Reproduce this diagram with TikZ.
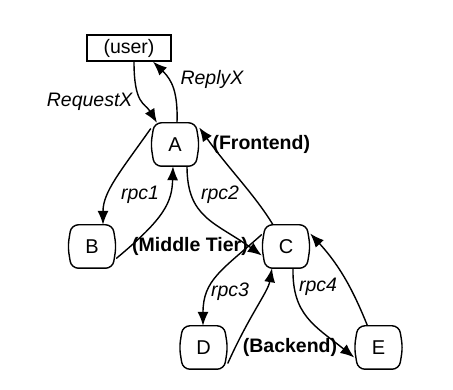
\documentclass[tikz,border=0pt]{standalone}
\usepackage{fontspec}
\setmainfont{Liberation Sans}
\usetikzlibrary{arrows.meta,calc}
\tikzset{
  tier/.style={minimum width=48pt,minimum height=43pt,inner sep=0pt,font=\fontsize{20}{23}\selectfont},
  userbox/.style={draw,line width=1.4pt,minimum width=84pt,minimum height=26pt,inner sep=0pt,font=\fontsize{19.5}{22}\selectfont},
  conn/.style={line width=1.4pt,-{Latex[length=14pt,width=11pt]}},
  lab/.style={font=\fontsize{19.5}{22}\selectfont\itshape},
  tiername/.style={font=\fontsize{19.5}{22}\selectfont\bfseries},
}
\begin{document}
\begin{tikzpicture}[x=1pt,y=-1pt]
\useasboundingbox (0,0) rectangle (453,390);
\node[userbox] (user) at (129,48) {(user)};
\node[tier] (A) at (175,144.5) {A};
\node[tier] (B) at (92,246.5) {B};
\node[tier] (C) at (286,246.5) {C};
\node[tier] (D) at (203.5,347.5) {D};
\node[tier] (E) at (378.5,347.5) {E};
\foreach \n in {A,B,C,D,E}{
  \draw[line width=1.4pt,rounded corners=7pt]
    ($(\n.north west)+(3.5,0)$) -- ($(\n.north east)+(-3.5,0)$) -- (\n.east)
    -- ($(\n.south east)+(-3.5,0)$) -- ($(\n.south west)+(3.5,0)$) -- (\n.west) -- cycle;
}
% user <-> A
\draw[conn] ([xshift=5pt]user.south) .. controls (134,105) and (145,103) .. ([xshift=-18pt]A.north);
\draw[conn] ([xshift=2pt]A.north) .. controls (178,92) and (172,80) .. ([xshift=24pt]user.south);
\node[lab,anchor=east] (reqx) at (136,102) {RequestX};
\node[lab,anchor=west] (repx) at (177,79) {ReplyX};
\node[tiername,anchor=west] (fe) at (209,144) {(Frontend)};
% A <-> B
\draw[conn] ([yshift=16pt]A.west) .. controls (120,172) and (103,192) .. ([xshift=11pt]B.north);
\draw[conn] ([yshift=-12pt]B.east) .. controls (165,218) and (172,202) .. ([xshift=-2pt]A.south);
\node[lab] (r1) at (140,195) {rpc1};
% A <-> C
\draw[conn] ([xshift=12pt]A.south) .. controls (187,218) and (215,222) .. ([yshift=-9pt]C.west);
\draw[conn] ([xshift=-13pt]C.north) .. controls (255,195) and (228,168) .. ([yshift=17pt]A.east);
\node[lab] (r2) at (220,195) {rpc2};
\node[tiername] (mt) at (190,246) {(Middle Tier)};
% C <-> D
\draw[conn] ([yshift=12pt]C.west) .. controls (222,270) and (203,280) .. ([xshift=-0.5pt]D.north);
\draw[conn] ([yshift=-16pt]D.east) .. controls (250,314) and (268,292) .. ([xshift=-14pt]C.south);
\node[lab] (r3) at (230,292) {rpc3};
% C <-> E
\draw[conn] ([xshift=7pt]C.south) .. controls (292,315) and (315,326) .. ([yshift=-10pt]E.west);
\draw[conn] ([xshift=-11pt]E.north) .. controls (355,295) and (342,268) .. ([yshift=13pt]C.east);
\node[lab] (r4) at (318,287) {rpc4};
\node[tiername] (be) at (290,347) {(Backend)};
\end{tikzpicture}
\end{document}
